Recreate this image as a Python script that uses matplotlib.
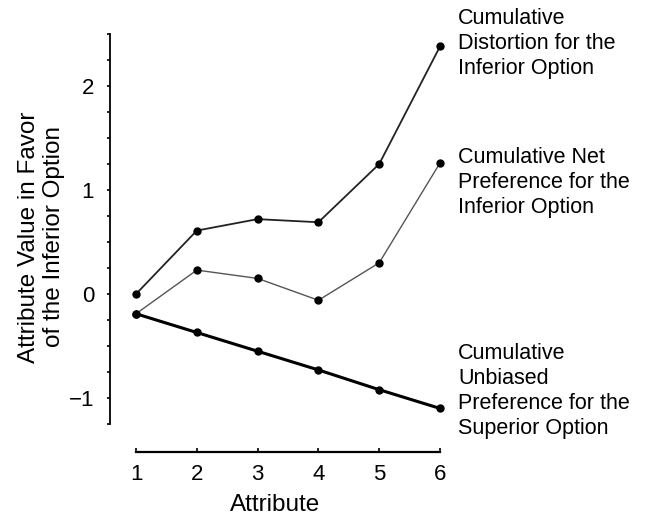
import matplotlib.pyplot as plt
import numpy as np
from matplotlib.ticker import FixedLocator

plt.rcParams['font.family'] = ['Liberation Sans', 'DejaVu Sans']

attributes = [1, 2, 3, 4, 5, 6]
distortion = [0.0, 0.61, 0.72, 0.69, 1.25, 2.38]
net_pref = [-0.19, 0.23, 0.15, -0.06, 0.30, 1.26]
unbiased = [-0.19, -0.37, -0.55, -0.73, -0.92, -1.10]

lab_distortion = 'Cumulative\nDistortion for the\nInferior Option'
lab_net = 'Cumulative Net\nPreference for the\nInferior Option'
lab_unbiased = 'Cumulative\nUnbiased\nPreference for the\nSuperior Option'

fig = plt.figure(figsize=(6.47, 5.19), dpi=100)
ax = fig.add_axes([110 / 647, 1 - 452 / 519, 330 / 647, (452 - 28.8) / 519])

ax.plot(attributes, distortion, color='#222222', lw=1.3, marker='o', ms=5, mfc='black', mec='black', clip_on=False)
ax.plot(attributes, net_pref, color='#555555', lw=1.0, marker='o', ms=5, mfc='black', mec='black', clip_on=False)
ax.plot(attributes, unbiased, color='black', lw=2.2, marker='o', ms=5, mfc='black', mec='black', clip_on=False)

ax.set_xlim(0.572, 6)
ax.set_ylim(-1.519, 2.55)

for s in ['top', 'right']:
    ax.spines[s].set_visible(False)
ax.spines['left'].set_bounds(-1.25, 2.5)
ax.spines['bottom'].set_bounds(1, 6)
ax.spines['left'].set_linewidth(1.3)
ax.spines['bottom'].set_linewidth(1.6)

ax.set_xticks(attributes)
ax.set_yticks([-1, 0, 1, 2])
ax.set_yticklabels(['\u22121', '0', '1', '2'])
ax.yaxis.set_minor_locator(FixedLocator(np.arange(-1.25, 2.51, 0.25)))
ax.tick_params(axis='x', direction='in', length=3, width=1.2, pad=9, labelsize=16)
ax.tick_params(axis='y', which='both', direction='out', length=2.5, width=1.2, pad=9, labelsize=16)

ax.set_xlabel('Attribute', fontsize=17.5, labelpad=6)
fig.text(41.5 / 647, 1 - 237 / 519, 'Attribute Value in Favor\nof the Inferior Option',
         rotation=90, ha='center', va='center', multialignment='center', fontsize=17.5, linespacing=1.18)

ax.annotate(lab_distortion, xy=(6, distortion[-1]), xytext=(18, 3), textcoords='offset pixels',
            ha='left', va='center', fontsize=15.5, linespacing=1.25, annotation_clip=False)
ax.annotate(lab_net, xy=(6, net_pref[-1]), xytext=(18, -20), textcoords='offset pixels',
            ha='left', va='center', fontsize=15.5, linespacing=1.25, annotation_clip=False)
ax.annotate(lab_unbiased, xy=(6, unbiased[-1]), xytext=(18, 17), textcoords='offset pixels',
            ha='left', va='center', fontsize=15.5, linespacing=1.25, annotation_clip=False)

fig.savefig('out.png', dpi=100)
